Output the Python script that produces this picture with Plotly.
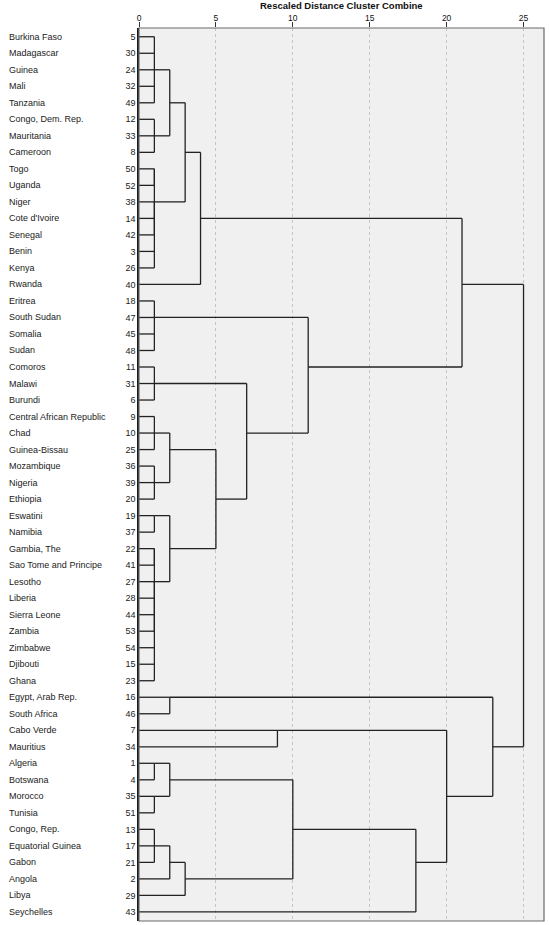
import math
import plotly.graph_objects as go

# leaf order as drawn, top to bottom, with their case numbers
countries = [
    "Burkina Faso", "Madagascar", "Guinea", "Mali", "Tanzania", "Congo, Dem. Rep.",
    "Mauritania", "Cameroon", "Togo", "Uganda", "Niger", "Cote d'Ivoire", "Senegal",
    "Benin", "Kenya", "Rwanda", "Eritrea", "South Sudan", "Somalia", "Sudan", "Comoros",
    "Malawi", "Burundi", "Central African Republic", "Chad", "Guinea-Bissau",
    "Mozambique", "Nigeria", "Ethiopia", "Eswatini", "Namibia", "Gambia, The",
    "Sao Tome and Principe", "Lesotho", "Liberia", "Sierra Leone", "Zambia", "Zimbabwe",
    "Djibouti", "Ghana", "Egypt, Arab Rep.", "South Africa", "Cabo Verde", "Mauritius",
    "Algeria", "Botswana", "Morocco", "Tunisia", "Congo, Rep.", "Equatorial Guinea",
    "Gabon", "Angola", "Libya", "Seychelles",
]
case_numbers = [
    5, 30, 24, 32, 49, 12, 33, 8, 50, 52, 38, 14, 42, 3, 26, 40, 18, 47, 45, 48, 11,
    31, 6, 9, 10, 25, 36, 39, 20, 19, 37, 22, 41, 27, 28, 44, 53, 54, 15, 23, 16, 46,
    7, 34, 1, 4, 35, 51, 13, 17, 21, 2, 29, 43,
]

# merges: id, rescaled distance, members (leaves or earlier clusters)
merge_ids = [
    "c1", "c2", "c3", "c4", "c5", "c6", "c7", "c8", "c9", "c10", "c11", "c12",
    "c13", "c14", "c15", "c16", "c17", "c18", "c19", "c20", "c21", "c22", "c23",
    "c24", "c25", "c26", "c27", "c28", "c29", "c30", "c31", "c32", "c33", "c34", "c35",
]
merge_heights = [
    1, 1, 2, 1, 1, 1, 3, 4, 1, 1, 1, 1,
    2, 1, 1, 1, 1, 2, 5, 7, 11, 21, 2,
    9, 1, 1, 2, 1, 2, 3, 10, 18, 20, 23, 25,
]
merge_members = [
    ["Burkina Faso", "Madagascar", "Guinea", "Mali", "Tanzania"],
    ["Congo, Dem. Rep.", "Mauritania", "Cameroon"],
    ["c1", "c2"],
    ["Togo", "Uganda"],
    ["Niger", "Cote d'Ivoire", "Senegal", "Benin", "Kenya"],
    ["c4", "c5"],
    ["c3", "c6"],
    ["c7", "Rwanda"],
    ["Eritrea", "South Sudan", "Somalia", "Sudan"],
    ["Comoros", "Malawi", "Burundi"],
    ["Central African Republic", "Chad", "Guinea-Bissau"],
    ["Mozambique", "Nigeria", "Ethiopia"],
    ["c11", "c12"],
    ["Eswatini", "Namibia"],
    ["Gambia, The", "Sao Tome and Principe"],
    ["Lesotho", "Liberia", "Sierra Leone", "Zambia", "Zimbabwe", "Djibouti", "Ghana"],
    ["c15", "c16"],
    ["c14", "c17"],
    ["c13", "c18"],
    ["c10", "c19"],
    ["c9", "c20"],
    ["c8", "c21"],
    ["Egypt, Arab Rep.", "South Africa"],
    ["Cabo Verde", "Mauritius"],
    ["Algeria", "Botswana"],
    ["Morocco", "Tunisia"],
    ["c25", "c26"],
    ["Congo, Rep.", "Equatorial Guinea", "Gabon"],
    ["c28", "Angola"],
    ["c29", "Libya"],
    ["c27", "c30"],
    ["c31", "Seychelles"],
    ["c24", "c32"],
    ["c23", "c33"],
    ["c22", "c34"],
]

tick_values = [0, 5, 10, 15, 20, 25]

FONT = "Arial, Liberation Sans, sans-serif"


def build_lines():
    """
    walks the merges in order and returns x/y lists for the dendrogram segments
    a cluster hangs off the row halfway between its first and last member (rounded down)
    """
    pos = {name: (i + 1, 0) for i, name in enumerate(countries)}
    xs, ys = [], []
    for cid, h, members in zip(merge_ids, merge_heights, merge_members):
        rows = [pos[m][0] for m in members]
        for m in members:
            r, h0 = pos[m]
            xs += [h0, h, None]
            ys += [r, r, None]
        xs += [h, h, None]
        ys += [min(rows), max(rows), None]
        pos[cid] = (math.floor((rows[0] + rows[-1]) / 2), h)
    return xs, ys


def main():
    xs, ys = build_lines()
    rows = list(range(1, len(countries) + 1))

    fig = go.Figure(go.Scatter(x=xs, y=ys, mode="lines",
                               line=dict(color="#222", width=1.3),
                               hoverinfo="skip", showlegend=False))

    # country names on the far left
    for r, name in zip(rows, countries):
        fig.add_annotation(x=0, xref="paper", y=r, yref="y", text=name,
                           xanchor="left", xshift=-132, showarrow=False,
                           font=dict(family=FONT, size=9, color="#222"))

    fig.add_annotation(x=0.5, xref="paper", y=1, yref="paper",
                       text="<b>Rescaled Distance Cluster Combine</b>",
                       showarrow=False, yanchor="middle", yshift=22.5,
                       font=dict(family=FONT, size=9.5, color="#111"))

    # grey frame around the plot area
    fig.add_shape(type="rect", xref="paper", yref="paper", x0=0, x1=1, y0=0, y1=1,
                  line=dict(color="#6a6a6a", width=1.2), layer="above")

    fig.update_xaxes(side="top", range=[0, 26.33], tickvals=tick_values,
                     ticks="outside", ticklen=5, tickcolor="#333", tickwidth=1,
                     ticklabelstandoff=-2,
                     tickfont=dict(family=FONT, size=8.5, color="#111"),
                     showgrid=True, gridcolor="#c4c4c4", griddash="3px,3px",
                     gridwidth=1, zeroline=False, showline=False)
    fig.update_yaxes(range=[54.55, 0.47], tickvals=rows,
                     ticktext=[str(n) for n in case_numbers], ticks="",
                     tickfont=dict(family=FONT, size=9, color="#222"),
                     showgrid=False, zeroline=False,
                     showline=True, linecolor="#1a1a1a", linewidth=1.5)

    fig.update_layout(width=550, height=925,
                      margin=dict(l=139, r=6, t=28, b=4),
                      plot_bgcolor="#f0f0f0", paper_bgcolor="white")

    # the page's default body margin shifts the chart, drop it
    fig.write_html("out.html", config={"displayModeBar": False},
                   post_script="document.body.style.margin='0';"
                               "document.body.style.overflow='hidden';")


if __name__ == "__main__":
    main()
